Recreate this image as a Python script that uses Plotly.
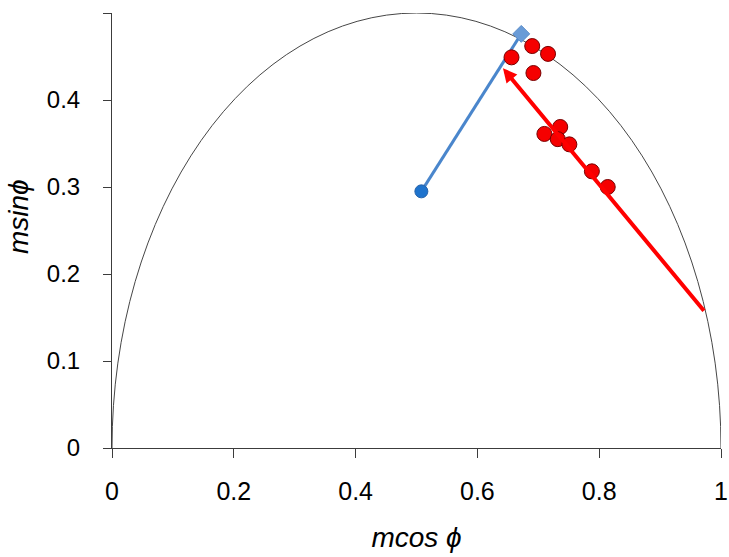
import plotly.graph_objects as go

# Data
red_x = [0.656, 0.690, 0.716, 0.692, 0.710, 0.736, 0.732, 0.751, 0.788, 0.814]
red_y = [0.449, 0.462, 0.453, 0.431, 0.361, 0.369, 0.355, 0.349, 0.318, 0.300]

blue_x = [0.508, 0.672]
blue_y = [0.295, 0.476]

red_arrow_start = (0.974, 0.156)
red_arrow_end = (0.642, 0.4365)

x_ticks = [0, 0.2, 0.4, 0.6, 0.8, 1]
x_tick_labels = ["0", "0.2", "0.4", "0.6", "0.8", "1"]
y_ticks = [0, 0.1, 0.2, 0.3, 0.4, 0.5]
y_tick_labels = ["0", "0.1", "0.2", "0.3", "0.4", "0.5"]

font_family = "Liberation Sans, Arial, sans-serif"

fig = go.Figure()

# blue line
fig.add_trace(go.Scatter(
    x=blue_x, y=blue_y, mode="lines",
    line=dict(color="rgb(74,134,204)", width=3),
    hoverinfo="skip", showlegend=False, cliponaxis=False,
))
# blue start circle
fig.add_trace(go.Scatter(
    x=[blue_x[0]], y=[blue_y[0]], mode="markers",
    marker=dict(symbol="circle", size=13, color="rgb(30,115,205)",
                line=dict(color="rgb(40,100,170)", width=1)),
    showlegend=False, cliponaxis=False,
))
# blue end diamond
fig.add_trace(go.Scatter(
    x=[blue_x[1]], y=[blue_y[1]], mode="markers",
    marker=dict(symbol="diamond", size=13, color="rgb(105,155,215)",
                line=dict(color="rgb(90,140,200)", width=1)),
    showlegend=False, cliponaxis=False,
))
# red circles
fig.add_trace(go.Scatter(
    x=red_x, y=red_y, mode="markers",
    marker=dict(symbol="circle", size=15, color="rgb(245,0,0)",
                line=dict(color="rgb(120,0,0)", width=1)),
    showlegend=False, cliponaxis=False,
))

# red arrow
fig.add_annotation(
    x=red_arrow_end[0], y=red_arrow_end[1],
    ax=red_arrow_start[0], ay=red_arrow_start[1],
    xref="x", yref="y", axref="x", ayref="y",
    text="", showarrow=True, arrowhead=2, arrowsize=0.7,
    arrowwidth=4, arrowcolor="rgb(255,0,0)", standoff=0, startstandoff=0,
)

# y-axis title
fig.add_annotation(
    text="<i>msinϕ</i>", textangle=-90,
    xref="paper", yref="paper", x=0, y=0.531,
    xanchor="center", yanchor="middle", xshift=-94,
    showarrow=False, font=dict(size=28),
)

# semicircle reference curve
fig.add_shape(
    type="circle", xref="x", yref="y",
    x0=0, x1=1, y0=-0.5, y1=0.5,
    line=dict(color="rgb(70,70,70)", width=1),
    layer="below",
)

fig.update_layout(
    width=729, height=557,
    margin=dict(l=112, r=8, t=13, b=109),
    paper_bgcolor="white", plot_bgcolor="white",
    font=dict(family=font_family, size=24, color="black"),
    showlegend=False,
)
fig.update_xaxes(
    range=[0, 1], tickvals=x_ticks, ticktext=x_tick_labels, automargin=False,
    showgrid=False, zeroline=False, showline=True, linecolor="rgb(60,60,60)", linewidth=1,
    ticks="outside", ticklen=9, tickcolor="rgb(60,60,60)",
    tickfont=dict(size=25), ticklabelstandoff=12,
    title=dict(text="<i>mcos ϕ</i>", font=dict(size=28), standoff=23),
)
fig.update_yaxes(
    range=[0, 0.5], tickvals=y_ticks, ticktext=y_tick_labels, automargin=False,
    showgrid=False, zeroline=False, showline=True, linecolor="rgb(60,60,60)", linewidth=1,
    ticks="outside", ticklen=8, tickcolor="rgb(60,60,60)",
    tickfont=dict(size=24), ticklabelstandoff=18,
)

fig.write_html("out.html", config={"displayModeBar": False},
               post_script="document.body.style.margin='0px';")
